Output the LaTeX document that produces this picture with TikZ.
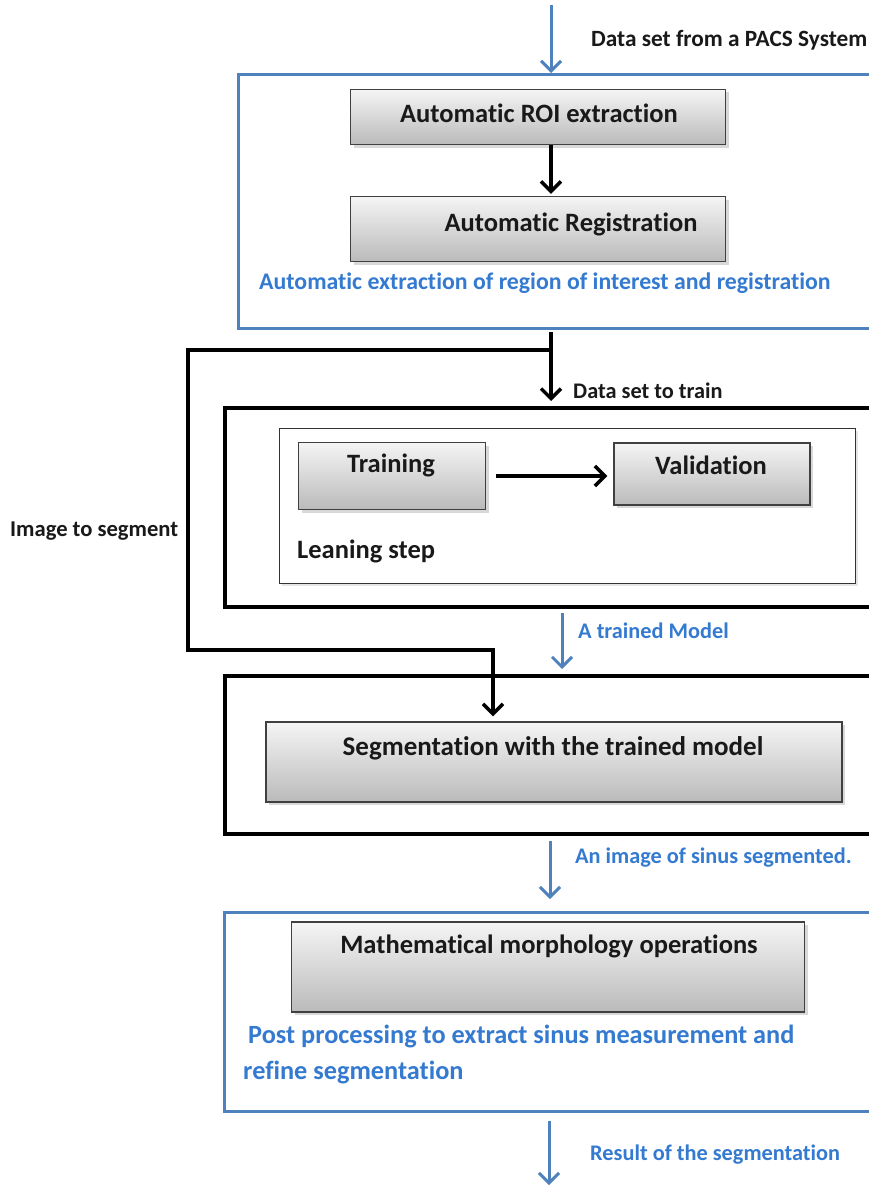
\documentclass[tikz,border=0pt]{standalone}
\usepackage{fontspec}
\setmainfont{Carlito}[Ligatures={NoCommon}]
\usetikzlibrary{arrows.meta,shadows,positioning}
\definecolor{flowblue}{RGB}{79,129,189}
\definecolor{textblue}{RGB}{52,122,208}

\begin{document}
\begin{tikzpicture}[x=1pt,y=-1pt,
    blue arrow/.style={draw=flowblue, line width=3pt, -{Straight Barb[length=10pt,width=20pt]}},
    black arrow/.style={draw=black, line width=3.5pt, -{Straight Barb[length=10pt,width=20pt]}}]
    \tikzstyle{blue frame}=[draw=flowblue, line width=3pt, anchor=north west, minimum width=720pt, inner sep=0]
    \tikzstyle{black frame}=[draw=black, line width=4pt, anchor=north west, minimum width=720pt, inner sep=0]
    \tikzstyle{gray box}=[draw=black!75, line width=1.2pt, top color=black!4, bottom color=black!27,
        drop shadow={shadow xshift=3pt, shadow yshift=-3pt, opacity=0.3}, inner sep=0]
    \tikzstyle{box font}=[font=\bfseries\fontsize{26.5}{30}\selectfont, text=black!90]
    \tikzstyle{black label}=[font=\bfseries\fontsize{22.3}{26}\selectfont, text=black!90, anchor=west, inner sep=0]
    \tikzstyle{blue label}=[font=\bfseries\fontsize{22.3}{26}\selectfont, text=textblue, anchor=west, inner sep=0]

    \clip (0,0) rectangle (869,1188);
    \fill[white] (0,0) rectangle (869,1188);

    % stage 1: ROI extraction and registration
    \node (frameA)[blue frame, minimum height=254pt] at (237,73) {};
    \node (roi)[gray box, minimum width=375pt, minimum height=55pt] at (538,117) {};
    \node (roi text)[box font] at (539,113) {Automatic ROI extraction};
    \node (reg)[gray box, minimum width=375pt, minimum height=65pt] at (538,229) {};
    \node (reg text)[box font] at (571,224) {Automatic Registration};
    \node (regnote)[blue label, font=\bfseries\fontsize{23.8}{28}\selectfont] at (259,283)
        {Automatic extraction of region of interest and registration};

    % stage 2: learning
    \node (frameB)[black frame, minimum height=199pt] at (223,406) {};
    \node (learn)[draw=black!80, line width=1.3pt, minimum width=576pt, minimum height=155pt,
        anchor=north west, drop shadow={shadow xshift=2pt, shadow yshift=-2pt, opacity=0.2}, fill=white] at (279,428) {};
    \node (train)[gray box, minimum width=187pt, minimum height=67pt] at (392,476) {};
    \node (train text)[box font] at (391,465) {Training};
    \node (valid)[gray box, minimum width=196pt, minimum height=62pt] at (712,474) {};
    \node (valid text)[box font] at (711,465) {Validation};
    \node (leaning)[black label, font=\bfseries\fontsize{26.5}{30}\selectfont] at (297,551) {Leaning step};

    % stage 3: segmentation
    \node (frameC)[black frame, minimum height=158pt] at (223,674) {};
    \node (seg)[gray box, minimum width=576pt, minimum height=80pt] at (554,762) {};
    \node (seg text)[box font, font=\bfseries\fontsize{27}{30}\selectfont] at (553,748) {Segmentation with the trained model};

    % stage 4: post processing
    \node (frameD)[blue frame, minimum height=199pt] at (223,911) {};
    \node (morph)[gray box, minimum width=513pt, minimum height=90pt] at (548,967) {};
    \node (morph text)[box font] at (549,946) {Mathematical morphology operations};
    \node (postnote)[blue label, font=\bfseries\fontsize{26.3}{36}\selectfont, align=left] at (243,1054)
        {\hspace*{5pt}Post processing to extract sinus measurement and\\refine segmentation};

    % free ends
    \coordinate (source) at (551,5);
    \coordinate (split) at (551,350);
    \coordinate (result) at (549,1185);

    % connectors
    \draw[blue arrow] (source) -- (source |- frameA.north);
    \node[black label, font=\bfseries\fontsize{23.3}{28}\selectfont] at (591,40) {Data set from a PACS System};
    \draw[black arrow] (roi.south -| 551,0) -- ([yshift=2pt]reg.north -| 551,0);
    \draw[black arrow] ([yshift=-2pt]split |- frameA.south) -- ([yshift=5pt]split |- frameB.north);
    \node[black label] at (573,391) {Data set to train};
    \draw[black arrow] ([xshift=10pt]train.east) -- ([xshift=-6pt]train.east -| valid.west);
    \draw[black arrow] (split) -- (188,350) -- (188,650) -- (493,650) -- ([yshift=5pt]493,0 |- seg.north);
    \node[black label, font=\bfseries\fontsize{22.6}{26}\selectfont] at (10,531) {Image to segment};
    \draw[blue arrow] ([yshift=-4pt]562,0 |- frameB.south) -- ([yshift=5pt]562,0 |- frameC.north);
    \node[blue label] at (578,631) {A trained Model};
    \draw[blue arrow] ([yshift=-5pt]550,0 |- frameC.south) -- ([yshift=12pt]550,0 |- frameD.north);
    \node[blue label] at (575,858) {An image of sinus segmented.};
    \draw[blue arrow] ([yshift=-8pt]549,0 |- frameD.south) -- (result);
    \node[blue label] at (590,1155) {Result of the segmentation};
\end{tikzpicture}
\end{document}
